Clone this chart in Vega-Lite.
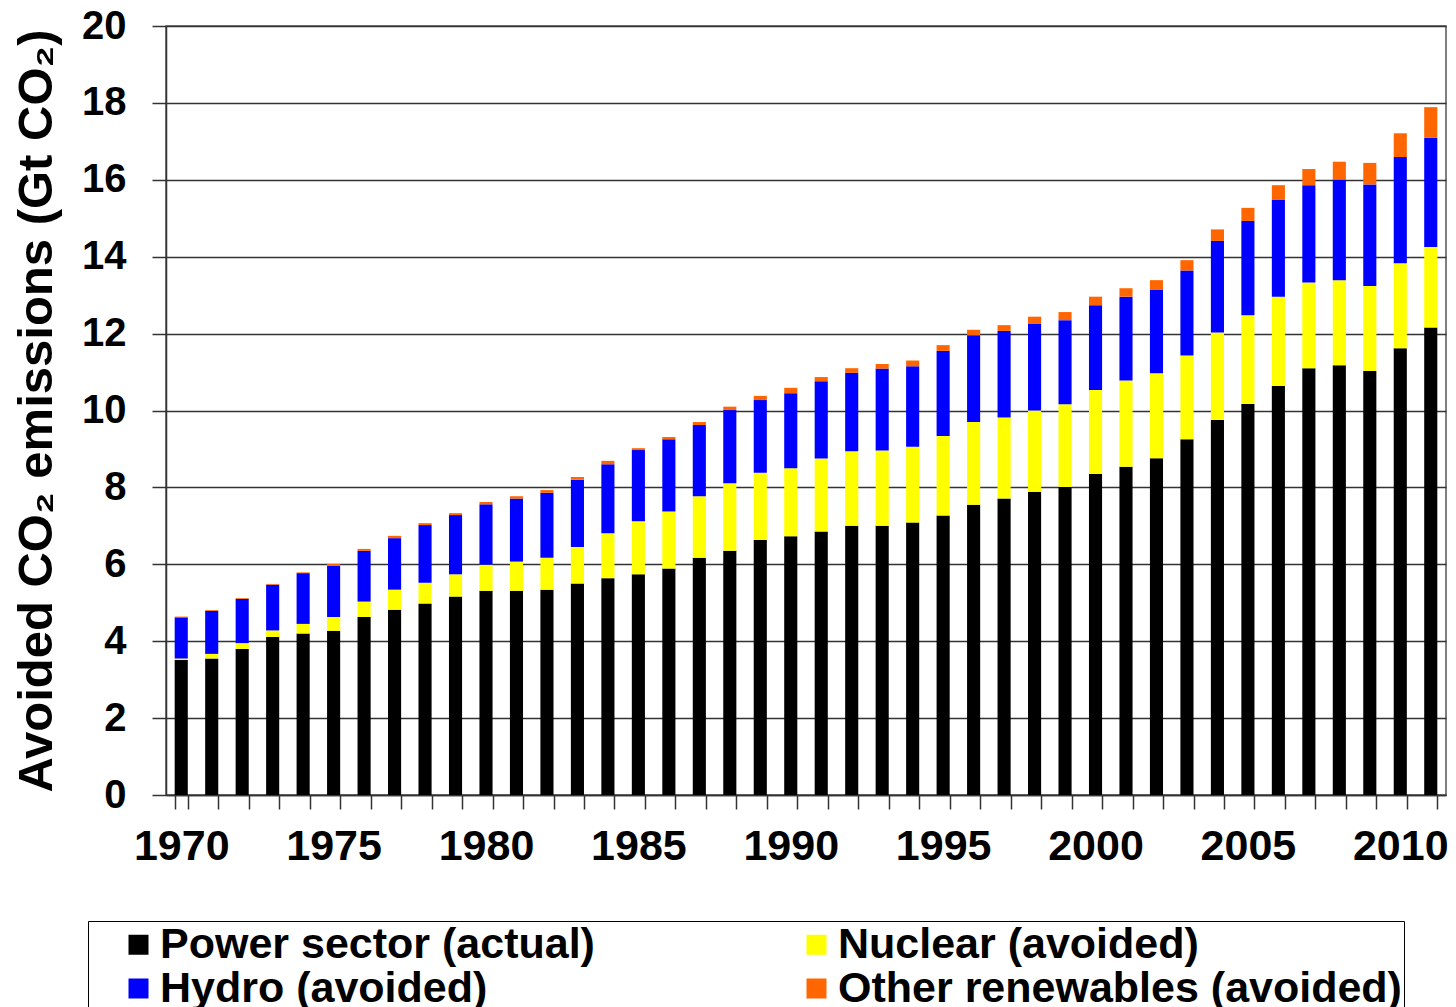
{
  "$schema": "https://vega.github.io/schema/vega-lite/v6.json",
  "autosize": {"type": "none"},
  "padding": {"left": 166, "top": 26, "right": 10, "bottom": 212},
  "width": 1280,
  "height": 769,
  "background": "white",
  "config": {
    "font": "Liberation Sans",
    "view": {"stroke": "#555555", "strokeWidth": 1.5},
    "axis": {"domainColor": "#333333", "domainWidth": 1.5, "tickColor": "#333333", "tickWidth": 1.5}
  },
  "data": {
    "values": [
      {"year": 1970, "Power sector (actual)": 3.51, "Nuclear (avoided)": 0.04, "Hydro (avoided)": 1.07, "Other renewables (avoided)": 0.02},
      {"year": 1971, "Power sector (actual)": 3.55, "Nuclear (avoided)": 0.12, "Hydro (avoided)": 1.12, "Other renewables (avoided)": 0.02},
      {"year": 1972, "Power sector (actual)": 3.80, "Nuclear (avoided)": 0.15, "Hydro (avoided)": 1.15, "Other renewables (avoided)": 0.02},
      {"year": 1973, "Power sector (actual)": 4.11, "Nuclear (avoided)": 0.17, "Hydro (avoided)": 1.19, "Other renewables (avoided)": 0.02},
      {"year": 1974, "Power sector (actual)": 4.20, "Nuclear (avoided)": 0.25, "Hydro (avoided)": 1.32, "Other renewables (avoided)": 0.02},
      {"year": 1975, "Power sector (actual)": 4.27, "Nuclear (avoided)": 0.36, "Hydro (avoided)": 1.33, "Other renewables (avoided)": 0.05},
      {"year": 1976, "Power sector (actual)": 4.63, "Nuclear (avoided)": 0.40, "Hydro (avoided)": 1.32, "Other renewables (avoided)": 0.05},
      {"year": 1977, "Power sector (actual)": 4.82, "Nuclear (avoided)": 0.52, "Hydro (avoided)": 1.34, "Other renewables (avoided)": 0.06},
      {"year": 1978, "Power sector (actual)": 4.98, "Nuclear (avoided)": 0.54, "Hydro (avoided)": 1.50, "Other renewables (avoided)": 0.05},
      {"year": 1979, "Power sector (actual)": 5.16, "Nuclear (avoided)": 0.58, "Hydro (avoided)": 1.54, "Other renewables (avoided)": 0.05},
      {"year": 1980, "Power sector (actual)": 5.31, "Nuclear (avoided)": 0.68, "Hydro (avoided)": 1.57, "Other renewables (avoided)": 0.06},
      {"year": 1981, "Power sector (actual)": 5.31, "Nuclear (avoided)": 0.76, "Hydro (avoided)": 1.64, "Other renewables (avoided)": 0.06},
      {"year": 1982, "Power sector (actual)": 5.34, "Nuclear (avoided)": 0.83, "Hydro (avoided)": 1.69, "Other renewables (avoided)": 0.07},
      {"year": 1983, "Power sector (actual)": 5.50, "Nuclear (avoided)": 0.95, "Hydro (avoided)": 1.75, "Other renewables (avoided)": 0.07},
      {"year": 1984, "Power sector (actual)": 5.64, "Nuclear (avoided)": 1.17, "Hydro (avoided)": 1.79, "Other renewables (avoided)": 0.09},
      {"year": 1985, "Power sector (actual)": 5.74, "Nuclear (avoided)": 1.38, "Hydro (avoided)": 1.85, "Other renewables (avoided)": 0.05},
      {"year": 1986, "Power sector (actual)": 5.89, "Nuclear (avoided)": 1.48, "Hydro (avoided)": 1.88, "Other renewables (avoided)": 0.06},
      {"year": 1987, "Power sector (actual)": 6.17, "Nuclear (avoided)": 1.60, "Hydro (avoided)": 1.85, "Other renewables (avoided)": 0.08},
      {"year": 1988, "Power sector (actual)": 6.35, "Nuclear (avoided)": 1.76, "Hydro (avoided)": 1.90, "Other renewables (avoided)": 0.09},
      {"year": 1989, "Power sector (actual)": 6.63, "Nuclear (avoided)": 1.75, "Hydro (avoided)": 1.89, "Other renewables (avoided)": 0.11},
      {"year": 1990, "Power sector (actual)": 6.73, "Nuclear (avoided)": 1.77, "Hydro (avoided)": 1.95, "Other renewables (avoided)": 0.14},
      {"year": 1991, "Power sector (actual)": 6.85, "Nuclear (avoided)": 1.90, "Hydro (avoided)": 2.01, "Other renewables (avoided)": 0.11},
      {"year": 1992, "Power sector (actual)": 7.00, "Nuclear (avoided)": 1.94, "Hydro (avoided)": 2.04, "Other renewables (avoided)": 0.12},
      {"year": 1993, "Power sector (actual)": 7.00, "Nuclear (avoided)": 1.96, "Hydro (avoided)": 2.13, "Other renewables (avoided)": 0.12},
      {"year": 1994, "Power sector (actual)": 7.09, "Nuclear (avoided)": 1.97, "Hydro (avoided)": 2.09, "Other renewables (avoided)": 0.15},
      {"year": 1995, "Power sector (actual)": 7.27, "Nuclear (avoided)": 2.07, "Hydro (avoided)": 2.21, "Other renewables (avoided)": 0.15},
      {"year": 1996, "Power sector (actual)": 7.55, "Nuclear (avoided)": 2.15, "Hydro (avoided)": 2.26, "Other renewables (avoided)": 0.14},
      {"year": 1997, "Power sector (actual)": 7.71, "Nuclear (avoided)": 2.11, "Hydro (avoided)": 2.25, "Other renewables (avoided)": 0.15},
      {"year": 1998, "Power sector (actual)": 7.89, "Nuclear (avoided)": 2.11, "Hydro (avoided)": 2.26, "Other renewables (avoided)": 0.18},
      {"year": 1999, "Power sector (actual)": 8.01, "Nuclear (avoided)": 2.15, "Hydro (avoided)": 2.19, "Other renewables (avoided)": 0.21},
      {"year": 2000, "Power sector (actual)": 8.35, "Nuclear (avoided)": 2.18, "Hydro (avoided)": 2.21, "Other renewables (avoided)": 0.22},
      {"year": 2001, "Power sector (actual)": 8.54, "Nuclear (avoided)": 2.24, "Hydro (avoided)": 2.18, "Other renewables (avoided)": 0.22},
      {"year": 2002, "Power sector (actual)": 8.76, "Nuclear (avoided)": 2.21, "Hydro (avoided)": 2.18, "Other renewables (avoided)": 0.24},
      {"year": 2003, "Power sector (actual)": 9.25, "Nuclear (avoided)": 2.18, "Hydro (avoided)": 2.21, "Other renewables (avoided)": 0.27},
      {"year": 2004, "Power sector (actual)": 9.75, "Nuclear (avoided)": 2.28, "Hydro (avoided)": 2.38, "Other renewables (avoided)": 0.30},
      {"year": 2005, "Power sector (actual)": 10.17, "Nuclear (avoided)": 2.31, "Hydro (avoided)": 2.45, "Other renewables (avoided)": 0.34},
      {"year": 2006, "Power sector (actual)": 10.64, "Nuclear (avoided)": 2.32, "Hydro (avoided)": 2.53, "Other renewables (avoided)": 0.37},
      {"year": 2007, "Power sector (actual)": 11.10, "Nuclear (avoided)": 2.23, "Hydro (avoided)": 2.53, "Other renewables (avoided)": 0.42},
      {"year": 2008, "Power sector (actual)": 11.18, "Nuclear (avoided)": 2.21, "Hydro (avoided)": 2.62, "Other renewables (avoided)": 0.46},
      {"year": 2009, "Power sector (actual)": 11.03, "Nuclear (avoided)": 2.21, "Hydro (avoided)": 2.64, "Other renewables (avoided)": 0.56},
      {"year": 2010, "Power sector (actual)": 11.62, "Nuclear (avoided)": 2.21, "Hydro (avoided)": 2.76, "Other renewables (avoided)": 0.62},
      {"year": 2011, "Power sector (actual)": 12.16, "Nuclear (avoided)": 2.09, "Hydro (avoided)": 2.84, "Other renewables (avoided)": 0.80}
    ]
  },
  "transform": [
    {"fold": ["Power sector (actual)", "Nuclear (avoided)", "Hydro (avoided)", "Other renewables (avoided)"], "as": ["series", "value"]},
    {"calculate": "indexof(['Power sector (actual)', 'Nuclear (avoided)', 'Hydro (avoided)', 'Other renewables (avoided)'], datum.series)", "as": "stackRank"}
  ],
  "mark": {"type": "bar"},
  "encoding": {
    "x": {
      "field": "year",
      "type": "ordinal",
      "scale": {"paddingInner": 0.57, "paddingOuter": 0.285},
      "axis": {
        "title": null,
        "labelAngle": 0,
        "labelExpr": "datum.value % 5 === 0 ? datum.label : ''",
        "labelFont": "Liberation Sans",
        "labelFontWeight": "bold",
        "labelFontSize": 43,
        "labelColor": "black",
        "tickBand": "extent",
        "tickSize": 14,
        "labelPadding": 16,
        "grid": false
      }
    },
    "y": {
      "field": "value",
      "type": "quantitative",
      "aggregate": "sum",
      "stack": "zero",
      "scale": {"domain": [0, 20], "nice": false},
      "axis": {
        "title": "Avoided CO₂ emissions (Gt CO₂)",
        "titleFont": "Liberation Sans",
        "titleFontWeight": "bold",
        "titleFontSize": 49,
        "titleColor": "black",
        "titlePadding": 20,
        "values": [0, 2, 4, 6, 8, 10, 12, 14, 16, 18, 20],
        "labelFont": "Liberation Sans",
        "labelFontWeight": "bold",
        "labelFontSize": 40,
        "labelColor": "black",
        "tickSize": 14,
        "labelPadding": 26,
        "grid": true,
        "gridColor": "#333333",
        "gridWidth": 1.5
      }
    },
    "color": {
      "field": "series",
      "type": "nominal",
      "sort": ["Power sector (actual)", "Nuclear (avoided)", "Hydro (avoided)", "Other renewables (avoided)"],
      "scale": {
        "domain": ["Power sector (actual)", "Nuclear (avoided)", "Hydro (avoided)", "Other renewables (avoided)"],
        "range": ["#000000", "#FFFF00", "#0000FF", "#FF6600"]
      },
      "legend": {
        "title": null,
        "orient": "none",
        "legendX": -78,
        "legendY": 895,
        "direction": "horizontal",
        "columns": 2,
        "symbolType": "square",
        "symbolSize": 400,
        "symbolStrokeWidth": 0,
        "symbolOffset": 27,
        "labelOffset": 0,
        "labelFont": "Liberation Sans",
        "labelFontWeight": "bold",
        "labelFontSize": 43,
        "labelColor": "black",
        "labelLimit": 800,
        "columnPadding": 173,
        "rowPadding": 0,
        "padding": 2,
        "strokeColor": "black",
        "fillColor": "white"
      }
    },
    "order": {"field": "stackRank", "type": "quantitative", "sort": "ascending"}
  }
}
